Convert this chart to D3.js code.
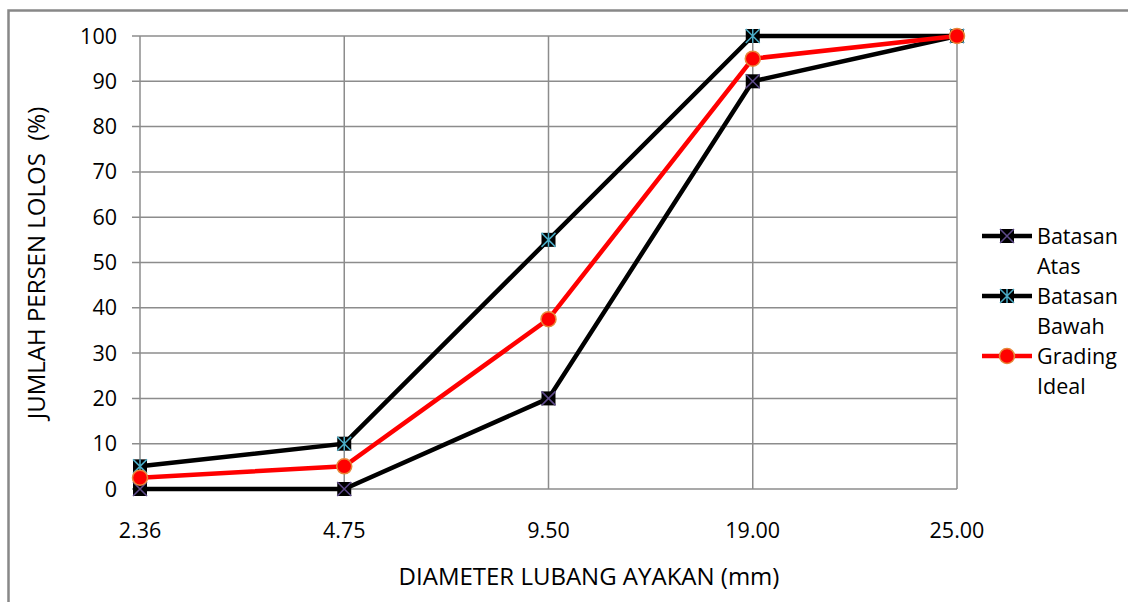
<!DOCTYPE html>
<html>
<head>
<meta charset="utf-8">
<script src="https://cdn.jsdelivr.net/npm/d3@7"></script>
<style>
  body { margin: 0; background: #fff; }
  text { font-family: "Open Sans", Lato, sans-serif; fill: #000; font-size: 21.5px; }
  .title { font-size: 24px; }
</style>
</head>
<body>
<svg id="chart" width="1128" height="602"></svg>
<script>
// sieve sizes and passing percentages
var sizes = ["2.36", "4.75", "9.50", "19.00", "25.00"];
var batasAtas = [0, 0, 20, 90, 100];
var batasBawah = [5, 10, 55, 100, 100];
var gradingIdeal = [2.5, 5, 37.5, 95, 100];
var yTicks = [0, 10, 20, 30, 40, 50, 60, 70, 80, 90, 100];

(function () {
  var svg = d3.select("#chart");
  var margin = {top: 36, left: 140};
  var width = 817, height = 453;

  // outer chart border (runs off the right and bottom edges)
  svg.append("rect")
    .attr("x", 8.5).attr("y", 10.5)
    .attr("width", 1140).attr("height", 620)
    .attr("fill", "none").attr("stroke", "#888").attr("stroke-width", 2.5);

  var g = svg.append("g")
    .attr("transform", "translate(" + margin.left + "," + margin.top + ")");

  var x = d3.scalePoint().domain(sizes).range([0, width]);
  var y = d3.scaleLinear().domain([0, 100]).range([height, 0]);

  // horizontal gridlines, with short ticks left of the axis
  g.append("g")
    .selectAll("line").data(yTicks).enter().append("line")
    .attr("x1", -8).attr("x2", width)
    .attr("y1", function(d) { return y(d); })
    .attr("y2", function(d) { return y(d); })
    .attr("stroke", "#8c8c8c").attr("stroke-width", 1.5);

  // vertical gridlines
  g.append("g")
    .selectAll("line").data(sizes).enter().append("line")
    .attr("x1", function(d) { return x(d); })
    .attr("x2", function(d) { return x(d); })
    .attr("y1", 0).attr("y2", height)
    .attr("stroke", "#8c8c8c").attr("stroke-width", 1.5);

  // tick labels
  g.append("g")
    .selectAll("text").data(yTicks).enter().append("text")
    .attr("x", -23)
    .attr("y", function(d) { return y(d); })
    .attr("dy", "0.35em")
    .attr("text-anchor", "end")
    .text(function(d) { return d; });

  g.append("g")
    .selectAll("text").data(sizes).enter().append("text")
    .attr("x", function(d) { return x(d); })
    .attr("y", height + 41)
    .attr("dy", "0.35em")
    .attr("text-anchor", "middle")
    .text(function(d) { return d; });

  // axis titles
  svg.append("text")
    .attr("class", "title")
    .attr("transform", "translate(37,263) rotate(-90)")
    .attr("dy", "0.35em")
    .attr("text-anchor", "middle")
    .style("white-space", "pre")
    .text("JUMLAH PERSEN LOLOS  (%)");

  svg.append("text")
    .attr("class", "title")
    .attr("x", 589).attr("y", 577)
    .attr("dy", "0.35em")
    .attr("text-anchor", "middle")
    .text("DIAMETER LUBANG AYAKAN (mm)");

  var series = [
    {name: ["Batasan", "Atas"], values: batasAtas, color: "#000", marker: "x", cross: "#5f4b8b"},
    {name: ["Batasan", "Bawah"], values: batasBawah, color: "#000", marker: "star", cross: "#4bacc6"},
    {name: ["Grading", "Ideal"], values: gradingIdeal, color: "#ff0000", marker: "circle"}
  ];

  var line = d3.line()
    .x(function(d, i) { return x(sizes[i]); })
    .y(function(d) { return y(d); });

  function drawMarker(sel, s) {
    if (s.marker === "circle") {
      sel.append("circle").attr("r", 7.5)
        .attr("fill", "#ff0000").attr("stroke", "#e7883a").attr("stroke-width", 1.5);
      return;
    }
    sel.append("rect").attr("x", -7).attr("y", -7).attr("width", 14).attr("height", 14)
      .attr("fill", "#000");
    var p = "M-7,-7L7,7M7,-7L-7,7";
    if (s.marker === "star") p += "M0,-7L0,7";
    sel.append("path").attr("d", p)
      .attr("stroke", s.cross).attr("stroke-width", 1.5).attr("fill", "none");
  }

  series.forEach(function(s) {
    g.append("path")
      .datum(s.values)
      .attr("fill", "none")
      .attr("stroke", s.color)
      .attr("stroke-width", 4.5)
      .attr("d", line);
  });

  series.forEach(function(s) {
    g.append("g").selectAll("g").data(s.values).enter().append("g")
      .attr("transform", function(d, i) { return "translate(" + x(sizes[i]) + "," + y(d) + ")"; })
      .each(function() { drawMarker(d3.select(this), s); });
  });

  // legend
  var legend = svg.append("g").attr("transform", "translate(982,236)");
  series.forEach(function(s, i) {
    var row = legend.append("g").attr("transform", "translate(0," + (i * 60) + ")");
    row.append("line").attr("x1", 0).attr("x2", 50)
      .attr("stroke", s.color).attr("stroke-width", 4.5);
    drawMarker(row.append("g").attr("transform", "translate(25,0)"), s);
    row.append("text").attr("x", 55).attr("y", 0).attr("dy", "0.35em").text(s.name[0]);
    row.append("text").attr("x", 55).attr("y", 30).attr("dy", "0.35em").text(s.name[1]);
  });
}());
</script>
</body>
</html>
